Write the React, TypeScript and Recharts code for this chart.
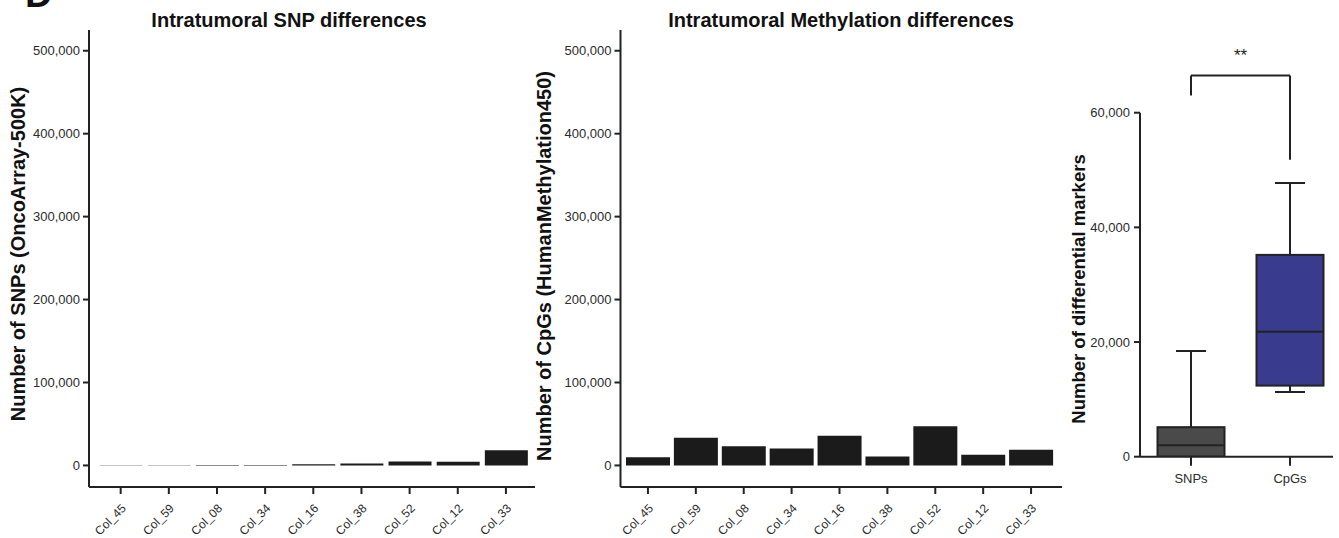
import React from 'react';
import { BarChart, Bar, XAxis, YAxis, ReferenceLine } from 'recharts';

// ---------- data ----------
const samples = ['Col_45', 'Col_59', 'Col_08', 'Col_34', 'Col_16', 'Col_38', 'Col_52', 'Col_12', 'Col_33'];
const snpDiffs = [300, 300, 400, 500, 1300, 2200, 4600, 4400, 18400];
const cpgDiffs = [10000, 33400, 23000, 20500, 35800, 10900, 47100, 12900, 19000];
const barTicks = [0, 100000, 200000, 300000, 400000, 500000];

const boxGroups = ['SNPs', 'CpGs'];
const boxMin = [0, 11300];
const boxQ1 = [0, 12400];
const boxMedian = [2000, 21800];
const boxQ3 = [5150, 35200];
const boxMax = [18450, 47750];
const boxTicks = [0, 20000, 40000, 60000];
const bracketTop = 66500;
const bracketEnds = [63000, 51800];
const significance = '**';

// ---------- styles ----------
const FONT = '"Liberation Sans", Arial, Helvetica, sans-serif';
const INK = '#222';
const TICK_INK = '#2b2b2b';
const BAR_FILL = '#1b1b1b';
const BOX_FILLS = ['#4a4a4a', '#383b8e'];

const snpData = samples.map((s, i) => ({ sample: s, value: snpDiffs[i] }));
const cpgData = samples.map((s, i) => ({ sample: s, value: cpgDiffs[i] }));
const boxData = boxGroups.map((g, i) => ({
  group: g,
  range: [boxMin[i], boxMax[i]],
  min: boxMin[i],
  q1: boxQ1[i],
  median: boxMedian[i],
  q3: boxQ3[i],
  max: boxMax[i],
}));

const fmt = (v: number) => v.toLocaleString('en-US');
const axisStyle = { stroke: INK, strokeWidth: 2 };

const RotTick = (props: any) => {
  const { x, y, payload } = props;
  return (
    <text
      x={0}
      y={0}
      transform={`translate(${x + 6},${y + 13}) rotate(-45)`}
      textAnchor="end"
      fontSize={12}
      fill={TICK_INK}
      fontFamily={FONT}
    >
      {payload.value}
    </text>
  );
};

const BoxShape = (props: any) => {
  const { x, y, width, height, payload, index } = props;
  const top = Math.min(y, y + height);
  const h = Math.abs(height);
  const lo = payload.min;
  const hi = payload.max;
  const toY = (v: number) => top + (h * (hi - v)) / (hi - lo);
  const cx = x + width / 2;
  const cap = 15;
  return (
    <g>
      <line x1={cx} x2={cx} y1={toY(hi)} y2={toY(payload.q3)} stroke={INK} strokeWidth={2} />
      <line x1={cx - cap} x2={cx + cap} y1={toY(hi)} y2={toY(hi)} stroke={INK} strokeWidth={2} />
      {payload.min < payload.q1 && (
        <g>
          <line x1={cx} x2={cx} y1={toY(payload.q1)} y2={toY(lo)} stroke={INK} strokeWidth={2} />
          <line x1={cx - cap} x2={cx + cap} y1={toY(lo)} y2={toY(lo)} stroke={INK} strokeWidth={2} />
        </g>
      )}
      <rect
        x={x}
        y={toY(payload.q3)}
        width={width}
        height={toY(payload.q1) - toY(payload.q3)}
        fill={BOX_FILLS[index]}
        stroke={INK}
        strokeWidth={2}
      />
      <line x1={x} x2={x + width} y1={toY(payload.median)} y2={toY(payload.median)} stroke={INK} strokeWidth={2} />
    </g>
  );
};

const SampleBars = ({ data, left, marginLeft, marginRight, padL, padR, barSize }: any) => (
  <div style={{ position: 'absolute', left, top: 0 }}>
    <BarChart
      width={540}
      height={538}
      data={data}
      margin={{ top: 30, right: marginRight, bottom: 6, left: marginLeft }}
    >
      <XAxis
        dataKey="sample"
        interval={0}
        height={45}
        padding={{ left: padL, right: padR }}
        axisLine={axisStyle}
        tickLine={axisStyle}
        tickSize={7}
        tick={<RotTick />}
      />
      <YAxis
        width={60}
        type="number"
        domain={[-26000, 525000]}
        allowDataOverflow
        ticks={barTicks}
        interval={0}
        tickFormatter={fmt}
        axisLine={axisStyle}
        tickLine={axisStyle}
        tickSize={6}
        tickMargin={3}
        tick={{ fontSize: 13, fill: TICK_INK, fontFamily: FONT }}
      />
      <Bar dataKey="value" fill={BAR_FILL} barSize={barSize} isAnimationActive={false} />
    </BarChart>
  </div>
);

export default function App() {
  return (
    <div style={{ position: 'absolute', left: 0, top: 0, width: 1339, height: 538, background: '#fff', fontFamily: FONT }}>
      <SampleBars data={snpData} left={0} marginLeft={29} marginRight={5} padL={7.6} padR={5} barSize={43} />
      <SampleBars data={cpgData} left={530} marginLeft={30.5} marginRight={8} padL={3.5} padR={7} barSize={44} />

      <div style={{ position: 'absolute', left: 1070, top: 0 }}>
        <BarChart
          width={269}
          height={538}
          data={boxData}
          margin={{ top: 112.7, right: 6, bottom: 51.3, left: 10 }}
        >
          <XAxis
            dataKey="group"
            interval={0}
            height={30}
            padding={{ left: 1.5, right: -6.5 }}
            axisLine={axisStyle}
            tickLine={axisStyle}
            tickSize={9}
            tickMargin={8}
            tick={{ fontSize: 13, fill: TICK_INK, fontFamily: FONT }}
          />
          <YAxis
            width={60}
            type="number"
            domain={[0, 60000]}
            allowDataOverflow
            ticks={boxTicks}
            interval={0}
            tickFormatter={fmt}
            axisLine={axisStyle}
            tickLine={axisStyle}
            tickSize={6}
            tickMargin={4}
            tick={{ fontSize: 13, fill: TICK_INK, fontFamily: FONT }}
          />
          <Bar dataKey="range" barSize={67} shape={BoxShape} isAnimationActive={false} />
          <ReferenceLine
            ifOverflow="visible"
            segment={[{ x: boxGroups[0], y: bracketEnds[0] }, { x: boxGroups[0], y: bracketTop }]}
            stroke={INK}
            strokeWidth={2}
          />
          <ReferenceLine
            ifOverflow="visible"
            segment={[{ x: boxGroups[0], y: bracketTop }, { x: boxGroups[1], y: bracketTop }]}
            stroke={INK}
            strokeWidth={2}
            label={{ value: significance, position: 'top', offset: 14, fontSize: 17, fill: INK, fontFamily: FONT }}
          />
          <ReferenceLine
            ifOverflow="visible"
            segment={[{ x: boxGroups[1], y: bracketTop }, { x: boxGroups[1], y: bracketEnds[1] }]}
            stroke={INK}
            strokeWidth={2}
          />
        </BarChart>
      </div>

      <svg
        width={1339}
        height={538}
        style={{ position: 'absolute', left: 0, top: 0, pointerEvents: 'none' }}
        fontFamily={FONT}
      >
        <text x={25} y={7} fontSize={38} fontWeight="bold" fill="#111">D</text>
        <text x={289} y={27} fontSize={20} fontWeight="bold" fill="#111" textAnchor="middle">
          Intratumoral SNP differences
        </text>
        <text x={841} y={27} fontSize={20} fontWeight="bold" fill="#111" textAnchor="middle">
          Intratumoral Methylation differences
        </text>
        <text
          x={0}
          y={0}
          transform="translate(24.5,254) rotate(-90)"
          fontSize={20}
          fontWeight="bold"
          fill="#111"
          textAnchor="middle"
        >
          Number of SNPs (OncoArray-500K)
        </text>
        <text
          x={0}
          y={0}
          transform="translate(551,266) rotate(-90)"
          fontSize={20}
          fontWeight="bold"
          fill="#111"
          textAnchor="middle"
        >
          Number of CpGs (HumanMethylation450)
        </text>
        <text
          x={0}
          y={0}
          transform="translate(1085,289) rotate(-90)"
          fontSize={18.5}
          fontWeight="bold"
          fill="#111"
          textAnchor="middle"
        >
          Number of differential markers
        </text>
      </svg>
    </div>
  );
}
